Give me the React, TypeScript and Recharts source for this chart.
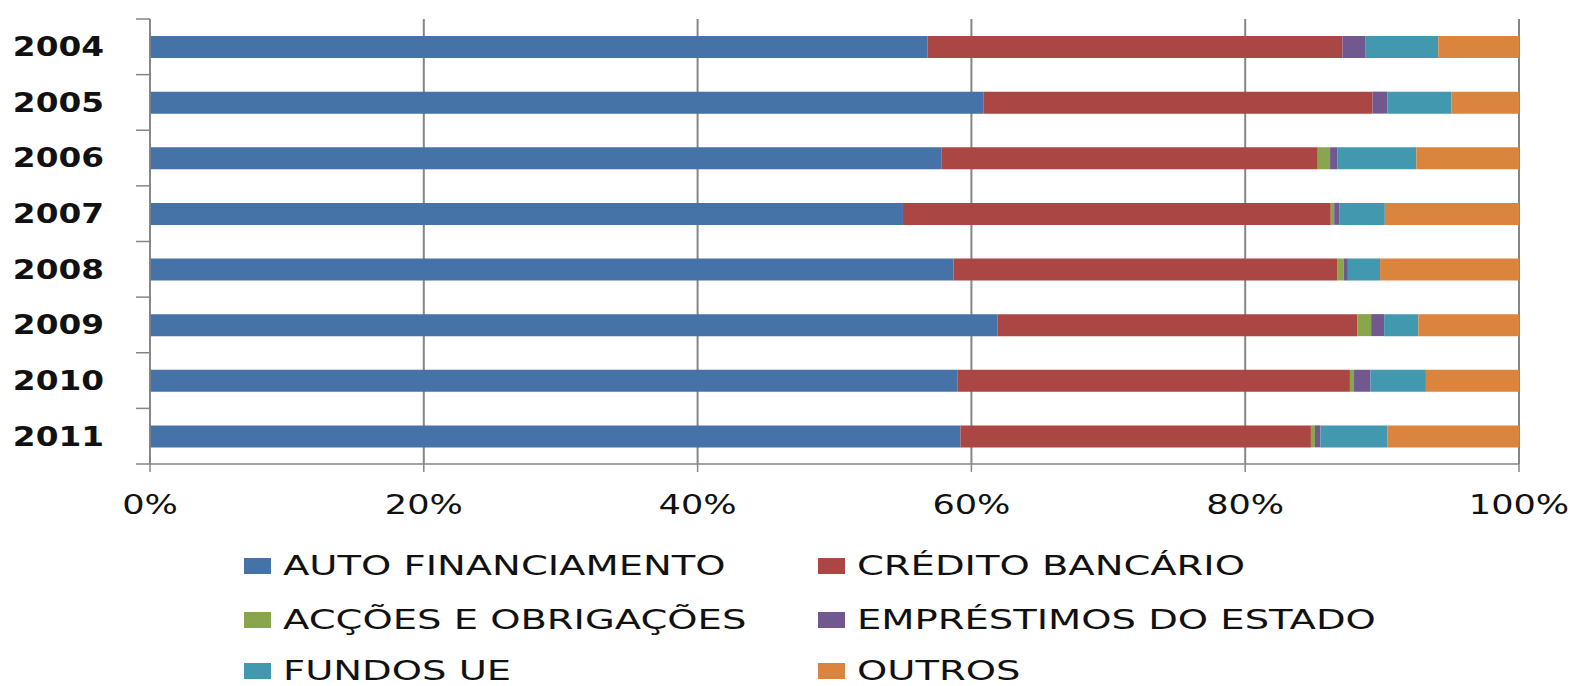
import React from "react";
import {
  BarChart,
  Bar,
  XAxis,
  YAxis,
  CartesianGrid,
  Legend,
} from "recharts";

document.body.style.margin = "0";

const years = ["2004", "2005", "2006", "2007", "2008", "2009", "2010", "2011"];

// percentages
const autoFinanciamento = [56.8, 60.9, 57.8, 55.0, 58.7, 61.9, 59.0, 59.2];
const creditoBancario = [30.3, 28.4, 27.5, 31.25, 28.05, 26.3, 28.65, 25.6];
const accoesObrigacoes = [0, 0, 0.9, 0.25, 0.45, 1.0, 0.3, 0.3];
const emprestimosEstado = [1.7, 1.1, 0.55, 0.4, 0.3, 0.95, 1.2, 0.4];
const fundosUE = [5.3, 4.65, 5.75, 3.3, 2.35, 2.5, 4.05, 4.9];
const outros = [5.9, 4.95, 7.5, 9.8, 10.15, 7.35, 6.8, 9.6];

const xTicks = [0, 0.2, 0.4, 0.6, 0.8, 1];

const series = [
  { key: "auto", name: "AUTO FINANCIAMENTO", color: "#4572A7", values: autoFinanciamento },
  { key: "credito", name: "CRÉDITO BANCÁRIO", color: "#AA4643", values: creditoBancario },
  { key: "accoes", name: "ACÇÕES E OBRIGAÇÕES", color: "#89A54E", values: accoesObrigacoes },
  { key: "emprestimos", name: "EMPRÉSTIMOS DO ESTADO", color: "#71588F", values: emprestimosEstado },
  { key: "fundos", name: "FUNDOS UE", color: "#4198AF", values: fundosUE },
  { key: "outros", name: "OUTROS", color: "#DB843D", values: outros },
];

const data = years.map((year, i) => {
  const row: Record<string, string | number> = { year };
  series.forEach((s) => {
    row[s.key] = s.values[i];
  });
  return row;
});

const W = 1576;
const H = 686;
const MARGIN = { top: 19, right: 57, bottom: 0, left: 0 };
const Y_W = 150;
const X_H = 50;
const LEGEND_H = 172;
const PLOT_H = H - MARGIN.top - MARGIN.bottom - X_H - LEGEND_H;
const BAND = PLOT_H / years.length;
const FONT = "'DejaVu Sans', Verdana, sans-serif";
const AXIS_GREY = "#868686";

const YearTick = (props: any) => {
  const { x, y, payload, index } = props;
  const axisX = MARGIN.left + Y_W;
  return (
    <g>
      <line x1={axisX - 14} x2={axisX} y1={y - BAND / 2} y2={y - BAND / 2} stroke={AXIS_GREY} strokeWidth={1.5} />
      {index === years.length - 1 && (
        <line x1={axisX - 14} x2={axisX} y1={y + BAND / 2} y2={y + BAND / 2} stroke={AXIS_GREY} strokeWidth={1.5} />
      )}
      <text
        transform={`translate(${x},${y}) scale(1.26,1)`}
        textAnchor="end"
        dy="0.36em"
        fontFamily={FONT}
        fontWeight="bold"
        fontSize={26}
        fill="#111"
      >
        {payload.value}
      </text>
    </g>
  );
};

const PctTick = (props: any) => {
  const { x, y, payload } = props;
  return (
    <text
      transform={`translate(${x},${y}) scale(1.3,1)`}
      textAnchor="middle"
      dy="0.71em"
      fontFamily={FONT}
      fontSize={27}
      fill="#111"
    >
      {`${Math.round(payload.value * 100)}%`}
    </text>
  );
};

const LegendBox = () => {
  const cols = [244, 818];
  const rows = [52, 106, 157];
  return (
    <div style={{ position: "relative", width: W, height: LEGEND_H, fontFamily: FONT }}>
      {series.map((s, i) => {
        const left = cols[i % 2];
        const cy = rows[Math.floor(i / 2)];
        return (
          <div key={s.key}>
            <div
              style={{
                position: "absolute",
                left,
                top: cy - 8,
                width: 27,
                height: 16,
                background: s.color,
              }}
            />
            <div
              style={{
                position: "absolute",
                left: left + 39,
                top: cy - 13,
                height: 26,
                lineHeight: "26px",
                fontSize: 26,
                color: "#111",
                whiteSpace: "nowrap",
                transform: "scaleX(1.48)",
                transformOrigin: "left center",
              }}
            >
              {s.name}
            </div>
          </div>
        );
      })}
    </div>
  );
};

export default function App() {
  return (
    <div style={{ width: W, height: H, background: "#fff" }}>
      <BarChart
        width={W}
        height={H}
        data={data}
        layout="vertical"
        stackOffset="expand"
        margin={MARGIN}
        barSize={22}
      >
        <CartesianGrid horizontal={false} stroke={AXIS_GREY} strokeWidth={2} />
        <XAxis
          type="number"
          domain={[0, 1]}
          ticks={xTicks}
          height={X_H}
          tickSize={8}
          tickMargin={23}
          axisLine={{ stroke: AXIS_GREY, strokeWidth: 1.5 }}
          tickLine={{ stroke: AXIS_GREY, strokeWidth: 1.5 }}
          tick={<PctTick />}
          interval={0}
        />
        <YAxis
          type="category"
          dataKey="year"
          width={Y_W}
          tickSize={14}
          tickMargin={32}
          tickLine={false}
          axisLine={{ stroke: AXIS_GREY, strokeWidth: 1.5 }}
          tick={<YearTick />}
          interval={0}
        />
        {series.map((s) => (
          <Bar
            key={s.key}
            dataKey={s.key}
            name={s.name}
            stackId="a"
            fill={s.color}
            isAnimationActive={false}
          />
        ))}
        <Legend
          verticalAlign="bottom"
          wrapperStyle={{ left: 0, width: W }}
          content={<LegendBox />}
        />
      </BarChart>
    </div>
  );
}
